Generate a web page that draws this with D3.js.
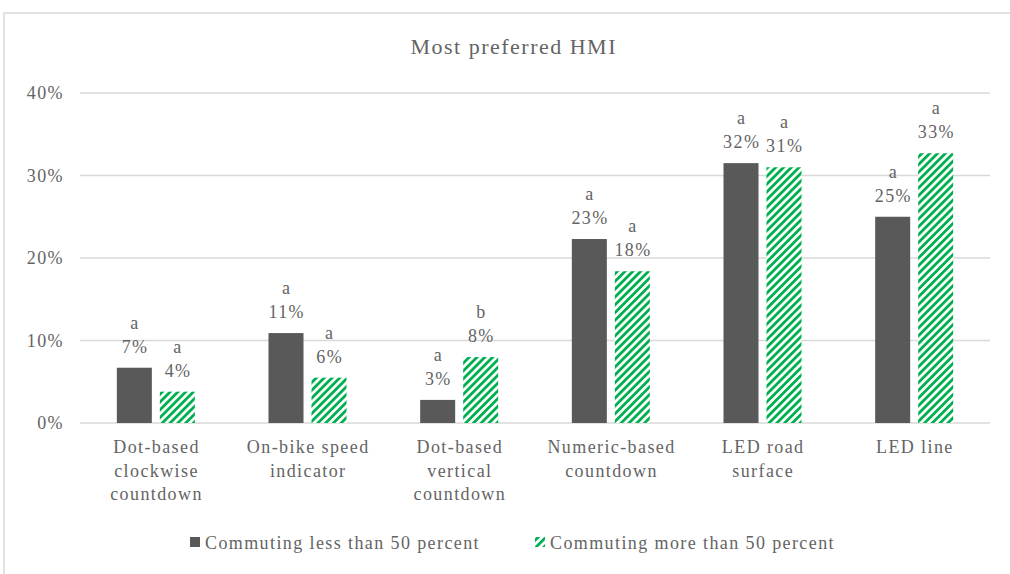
<!DOCTYPE html>
<html><head><meta charset="utf-8">
<script src="https://cdn.jsdelivr.net/npm/d3@7"></script>
<style>body{margin:0;background:#fff}svg{display:block}text{letter-spacing:1.4px}</style>
</head><body>
<script>
const categories = [["Dot-based","clockwise","countdown"],["On-bike speed","indicator"],["Dot-based","vertical","countdown"],["Numeric-based","countdown"],["LED road","surface"],["LED line"]];
const seriesNames = ["Commuting less than 50 percent","Commuting more than 50 percent"];
const lessValues = [0.067, 0.109, 0.028, 0.223, 0.315, 0.250];
const moreValues = [0.038, 0.055, 0.080, 0.184, 0.310, 0.327];
const lessLetters = ["a","a","a","a","a","a"];
const moreLetters = ["a","a","b","a","a","a"];
const lessLabels = ["7%","11%","3%","23%","32%","25%"];
const moreLabels = ["4%","6%","8%","18%","31%","33%"];
const yTicks = [0,0.1,0.2,0.3,0.4];

const W=1010,H=574;
const svg=d3.select("body").append("svg").attr("width",W).attr("height",H);
const font="'Liberation Serif','Times New Roman',serif";
const txt="#646464";
const defs=svg.append("defs");
const pat=defs.append("pattern").attr("id","hatch").attr("patternUnits","userSpaceOnUse")
  .attr("width",5.5).attr("height",5.5).attr("patternTransform","rotate(45)");
pat.append("rect").attr("width",5.5).attr("height",5.5).attr("fill","#fff");
pat.append("rect").attr("x",0).attr("y",0).attr("width",2.8).attr("height",5.5).attr("fill","#00b050");

// frame
svg.append("rect").attr("x",4).attr("y",13).attr("width",W+10).attr("height",H+10)
  .attr("fill","#fff").attr("stroke","#d9d9d9").attr("stroke-width",1.5);

const x0=d3.scaleBand().domain(d3.range(categories.length)).range([80,990]);
const y=d3.scaleLinear().domain([0,0.4]).range([423,93]);
const bw=35, gap=8;
const ls=0.7; // half letter-spacing compensation for centered text

// gridlines
svg.append("g").selectAll("line").data(yTicks).join("line")
  .attr("x1",80).attr("x2",990).attr("y1",d=>y(d)).attr("y2",d=>y(d))
  .attr("stroke","#d9d9d9").attr("stroke-width",1.5);
const yAxis=d3.axisLeft(y).tickValues(yTicks).tickFormat(d3.format(".0%")).tickSize(0).tickPadding(0);
const ya=svg.append("g").attr("transform","translate(64,0)").call(yAxis);
ya.select(".domain").remove();
ya.selectAll("text").attr("font-family",font).attr("font-size",18).attr("fill",txt);

svg.append("text").attr("x",513+ls).attr("y",54).attr("text-anchor","middle").style("letter-spacing","1.5px")
  .attr("font-family",font).attr("font-size",22).attr("fill",txt).text("Most preferred HMI");

const cx=i=>x0(i)+x0.bandwidth()/2;
const series=[
 {vals:lessValues,letters:lessLetters,labels:lessLabels,fill:"#595959",off:-(bw/2+gap/2)},
 {vals:moreValues,letters:moreLetters,labels:moreLabels,fill:"url(#hatch)",off:(bw/2+gap/2)}
];
series.forEach(s=>{
  const g=svg.append("g");
  g.selectAll("rect").data(s.vals).join("rect")
    .attr("x",(d,i)=>cx(i)+s.off-bw/2).attr("width",bw)
    .attr("y",d=>y(d)).attr("height",d=>y(0)-y(d)).attr("fill",s.fill);
  g.selectAll("text.p").data(s.vals).join("text").attr("class","p")
    .attr("x",(d,i)=>cx(i)+s.off+ls).attr("y",d=>y(d)-15).attr("text-anchor","middle")
    .attr("font-family",font).attr("font-size",18).attr("fill",txt).text((d,i)=>s.labels[i]);
  g.selectAll("text.l").data(s.vals).join("text").attr("class","l")
    .attr("x",(d,i)=>cx(i)+s.off+ls).attr("y",d=>y(d)-39).attr("text-anchor","middle")
    .attr("font-family",font).attr("font-size",18).attr("fill",txt).text((d,i)=>s.letters[i]);
});

// category labels
const cg=svg.append("g");
categories.forEach((lines,i)=>{
  const t=cg.append("text").attr("text-anchor","middle").attr("font-family",font)
    .attr("font-size",18).attr("fill",txt);
  lines.forEach((ln,j)=>t.append("tspan").attr("x",cx(i)+ls).attr("y",453+j*23.5).text(ln));
});

// legend
const lg=svg.append("g");
lg.append("rect").attr("x",190).attr("y",537).attr("width",10).attr("height",10).attr("fill","#595959");
lg.append("text").attr("x",205).attr("y",549).attr("font-family",font).attr("font-size",18).attr("fill",txt).text(seriesNames[0]);
lg.append("rect").attr("x",535).attr("y",537).attr("width",10).attr("height",10).attr("fill","url(#hatch)");
lg.append("text").attr("x",550).attr("y",549).attr("font-family",font).attr("font-size",18).attr("fill",txt).text(seriesNames[1]);
</script>
</body></html>
